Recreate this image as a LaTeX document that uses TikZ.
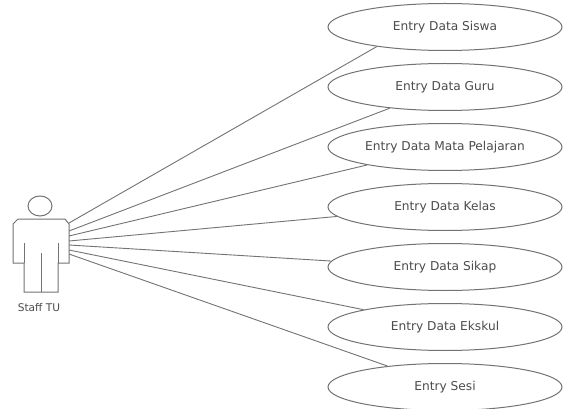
\documentclass[tikz,border=0pt]{standalone}
\usepackage{fontspec}
\setmainfont{DejaVu Sans}
\usetikzlibrary{shapes.geometric}
\tikzset{
  usecase/.style={draw=linecol,line width=1pt,ellipse,minimum width=234pt,minimum height=47pt,inner sep=0pt,text=textcol,font=\fontsize{12.2pt}{14pt}\selectfont},
  assoc/.style={draw=linecol,line width=0.9pt},
  actorline/.style={draw=linecol,line width=1pt,line join=miter},
  actorlabel/.style={text=textcol,font=\fontsize{10.6pt}{12pt}\selectfont,inner sep=0pt}
}
\definecolor{linecol}{gray}{0.45}
\definecolor{textcol}{gray}{0.3}
\begin{document}
\begin{tikzpicture}[x=1pt,y=-1pt]
\useasboundingbox (0,0) rectangle (568,409);
\fill[white] (0,0) rectangle (568,409);
% use cases
\node[usecase] (siswa) at (445,27) {Entry Data Siswa};
\node[usecase] (guru) at (445,87) {Entry Data Guru};
\node[usecase] (mapel) at (445,147) {Entry Data Mata Pelajaran};
\node[usecase] (kelas) at (445,207) {Entry Data Kelas};
\node[usecase] (sikap) at (445,267) {Entry Data Sikap};
\node[usecase] (ekskul) at (445,327) {Entry Data Ekskul};
\node[usecase] (sesi) at (445,387) {Entry Sesi};
% actor
\draw[actorline] (40,206) ellipse [x radius=12,y radius=10];
\draw[actorline] (18,219) -- (65,219) -- (69,224) -- (69,263) -- (58,263) -- (58,292) -- (24,292) -- (24,263) -- (13,263) -- (13,224) -- cycle;
\draw[actorline] (24,243) -- (24,263);
\draw[actorline] (58,243) -- (58,263);
\draw[actorline] (41,253) -- (41,292);
\node[actorlabel] (stafflabel) at (39,308) {Staff TU};
% association start points
\coordinate (a1) at (69,223);
\coordinate (a2) at (69,231);
\coordinate (a3) at (69,236);
\coordinate (a4) at (69,241);
\coordinate (a5) at (69,245);
\coordinate (a6) at (69,250);
\coordinate (a7) at (69,254);
\draw[assoc] (a1) -- (siswa.196.4);
\draw[assoc] (a2) -- (guru.201.8);
\draw[assoc] (a3) -- (mapel.193.5);
\draw[assoc] (a4) -- (kelas.185.4);
\draw[assoc] (a5) -- (sikap.177.5);
\draw[assoc] (a6) -- (ekskul.168.3);
\draw[assoc] (a7) -- (sesi.160.7);
\end{tikzpicture}
\end{document}
